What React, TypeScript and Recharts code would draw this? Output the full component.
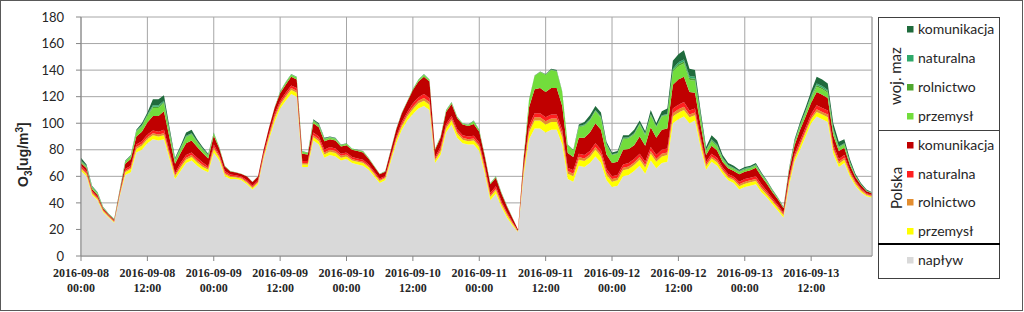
import { AreaChart, Area, XAxis, YAxis, CartesianGrid, ReferenceLine } from 'recharts';

// hourly values, 2016-09-08 00:00 .. 2016-09-13 23:00 (one line = one day)
const hours = Array.from({ length: 144 }, (_, i) => i);

const naplyw = [
  64, 60, 46, 42, 33, 29, 25, 45, 61, 63, 78, 80, 85, 88, 87, 88, 73, 58, 64, 70, 72, 68, 65, 63,
  78, 72, 60, 58, 58, 57, 54, 50, 54, 73, 88, 101, 111, 117, 122, 120, 67, 67, 87, 84, 74, 76, 75, 72,
  73, 70, 69, 68, 65, 60, 55, 57, 71, 85, 95, 102, 107, 111, 113, 110, 70, 76, 93, 99, 89, 85, 84, 84,
  79, 62, 42, 47, 37, 29, 23, 18, 60, 88, 96, 96, 93, 95, 95, 84, 58, 56, 68, 67, 70, 75, 70, 57,
  52, 53, 60, 61, 64, 68, 62, 72, 66, 70, 71, 100, 103, 105, 100, 102, 82, 65, 71, 68, 62, 57, 55, 50,
  52, 53, 54, 48, 44, 39, 34, 29, 53, 71, 80, 90, 100, 105, 103, 101, 77, 67, 70, 60, 53, 48, 45, 44,
];

const plPrzemysl = [
  1.5, 1.5, 1, 1, 0.8, 0.6, 0.6, 1, 2, 2.5, 2.5, 3, 3, 3, 3, 3, 2.5, 2, 2.5, 2.5, 2.5, 2.5, 2, 2,
  2.5, 2, 1.5, 1.5, 1.2, 1.2, 1.2, 1.2, 1.2, 1.5, 2, 2.5, 2.5, 2.5, 3, 3, 2, 2, 2.5, 2.5, 2.5, 2.5, 2.5, 2,
  2, 2, 2, 2, 1.8, 1.5, 1.5, 1.5, 2, 2.5, 2.5, 3, 3.5, 4, 4, 4, 2, 2.5, 3, 3, 3, 2.5, 2.5, 3,
  3, 2.5, 2.5, 2.5, 2, 1.8, 1.2, 0.5, 3, 5, 6, 6, 6, 6, 6, 5.5, 4, 4, 4.5, 4.5, 4.5, 5, 5, 4,
  4, 4, 4.5, 4.5, 4.5, 4.5, 4.5, 5, 5, 5, 5, 5, 5, 5, 4.5, 4, 3.5, 2.5, 2.5, 2.5, 2, 2, 2, 2.5,
  2.5, 2.5, 2.5, 2.5, 2, 2, 2, 1.5, 2.5, 2.5, 3, 3, 3, 3.5, 3.5, 3.5, 3, 2.5, 2.5, 2, 1.5, 1.2, 1, 0.8,
];

const plRolnictwo = [
  1, 1, 1, 0.5, 0.5, 0.4, 0.4, 0.5, 1, 1, 1.5, 1.5, 1.5, 1.5, 1.5, 1.5, 1.5, 1, 1.5, 1.5, 1.5, 1.5, 1.5, 1,
  1.5, 1, 1, 0.8, 0.7, 0.7, 0.8, 0.8, 0.8, 1, 1, 1.5, 1.5, 1.5, 1.5, 1.5, 1, 1, 1.5, 1.5, 1.5, 1.5, 1.5, 1.5,
  1.5, 1, 1, 1, 1, 1, 0.8, 0.8, 1, 1, 1.5, 1.5, 2, 2, 2, 2, 1, 1.5, 1.5, 1.5, 1.5, 1.5, 1.5, 1.5,
  1.5, 1.5, 1.2, 1.2, 1, 1, 0.7, 0.3, 1.5, 2, 2.5, 2.5, 2.5, 2.5, 2.5, 2.5, 2, 2, 2, 2, 2, 2, 2, 2,
  2, 2, 2, 2, 2, 2, 2, 2, 2, 2, 2, 2.5, 2.5, 2.5, 2, 2, 2, 1.5, 1.5, 1.5, 1.2, 1.2, 1.2, 1.5,
  1.5, 1.5, 1.5, 1.5, 1.5, 1, 1, 1, 1.5, 1.5, 1.5, 1.5, 1.5, 2, 2, 2, 1.5, 1.5, 1.5, 1, 1, 0.8, 0.5, 0.5,
];

const plNaturalna = [
  1.5, 1.5, 1, 1, 0.7, 0.5, 0.5, 1, 1.5, 1.5, 2, 2, 2, 2, 2, 2.5, 2, 1.5, 2, 2, 2, 2, 2, 1.5,
  2, 1.5, 1.5, 1, 0.9, 0.9, 1, 1, 1, 1.5, 1.5, 2, 2, 2, 2, 2, 1.5, 1.5, 2, 2, 2, 2, 2, 1.5,
  1.5, 1.5, 1.5, 1.5, 1.2, 1.2, 1, 1, 1.2, 1.5, 2, 2, 2.5, 2.5, 3, 3, 1.5, 2, 2, 2, 2, 2, 2, 2,
  2, 2, 1.8, 1.8, 1.5, 1.2, 0.9, 0.3, 2, 3, 3, 3, 3, 3, 3, 3, 2.5, 2.5, 2.5, 2.5, 2.5, 3, 3, 2.5,
  2, 2, 2.5, 2.5, 2.5, 2.5, 2.5, 3, 3, 3, 3, 3.5, 3.5, 3.5, 3, 3, 2.5, 2, 2, 2, 1.6, 1.6, 1.6, 2,
  2, 2, 2, 2, 1.5, 1.5, 1.5, 1, 2, 2, 2.5, 2.5, 2.5, 3, 3, 3, 2.5, 2, 2, 1.5, 1, 1, 0.8, 0.7,
];

const plKomunikacja = [
  2, 2, 1.5, 1.5, 1, 0.8, 0.8, 1.5, 4, 5, 6, 7, 9, 11, 12, 14, 10, 7, 7.5, 9, 9, 8, 7, 6,
  6.5, 4.5, 3.5, 2.4, 2, 2, 2.8, 2.8, 2.8, 2.8, 4.2, 4.7, 5.5, 6, 6.5, 6.5, 5.5, 5, 7, 7, 6.5, 6, 6, 5.5,
  5.5, 5.5, 5.5, 5.5, 4.3, 3.7, 3.2, 3.2, 4.3, 5.5, 6.5, 7.8, 10, 12, 13, 12.5, 5.5, 7, 9, 9, 8.5, 8, 8, 9,
  8, 7, 6.5, 6.5, 5.5, 4.3, 2.8, 0.8, 6, 14, 18, 19, 19, 20, 20, 18, 11, 10, 12, 13, 14, 15, 15, 11,
  10, 10, 11, 10.5, 10.5, 13, 12, 15, 13, 15, 15, 18, 19, 19, 14, 12, 9, 5, 6, 5.5, 4, 4.2, 4.2, 5.5,
  5.5, 5.5, 6.5, 6, 5.5, 4.5, 4, 3.5, 5, 6.5, 8, 8, 8.5, 10, 10, 9.5, 7, 6, 5.5, 4, 3, 2.4, 1.5, 1.2,
];

const wmPrzemysl = [
  1, 1, 1, 1, 0.5, 0.4, 0.4, 0.5, 1.5, 2, 3.5, 4, 5, 6, 6, 6, 4, 2.5, 3, 4.5, 4.5, 3.5, 2.5, 2,
  2, 0.8, 0.3, 0.2, 0.1, 0.1, 0.1, 0.1, 0.1, 0.1, 0.2, 0.2, 1, 1.5, 1.5, 1.5, 1.5, 1, 1.5, 1.5, 1.5, 1.2, 1.2, 1,
  1, 0.7, 0.7, 0.7, 0.5, 0.4, 0.3, 0.3, 0.3, 0.3, 0.3, 0.5, 0.7, 1, 1.5, 1, 0.7, 0.7, 1, 1, 0.7, 0.7, 0.7, 2,
  1.2, 0.7, 0.7, 0.7, 0.7, 0.5, 0.3, 0.1, 1.3, 5.5, 10, 12, 13, 13.5, 12.5, 10.5, 6, 5, 8, 9, 9, 9, 9, 7,
  6, 6, 8, 8, 8, 9, 8, 9, 8, 10, 10, 10, 10, 10, 9, 9, 6, 3, 3.5, 3, 2, 1.5, 1.5, 1.5,
  1.5, 1.5, 1.5, 1.3, 1.2, 1, 0.8, 0.5, 1, 2, 2.5, 3, 3.5, 4, 4, 4, 3, 2.5, 2.5, 1.5, 0.8, 0.5, 0.3, 0.3,
];

const wmRolnictwo = [
  0.5, 0.5, 0.5, 0.3, 0.2, 0.1, 0.1, 0.2, 0.3, 0.4, 0.5, 0.5, 0.5, 1, 1, 1, 0.8, 0.5, 0.5, 0.5, 0.5, 0.5, 0.5, 0.5,
  0.2, 0.1, 0.1, 0.1, 0.1, 0.1, 0.1, 0.1, 0.1, 0.1, 0.1, 0.1, 0.2, 0.2, 0.2, 0.2, 0.2, 0.2, 0.5, 0.5, 0.3, 0.3, 0.3, 0.2,
  0.2, 0.1, 0.1, 0.1, 0.1, 0.1, 0.1, 0.1, 0.1, 0.1, 0.1, 0.1, 0.1, 0.2, 0.2, 0.2, 0.1, 0.1, 0.2, 0.2, 0.1, 0.1, 0.1, 0.2,
  0.1, 0.1, 0.1, 0.1, 0.1, 0.1, 0.1, 0, 0.1, 0.2, 0.2, 0.2, 0.2, 0.3, 0.3, 0.2, 0.1, 0.1, 0.5, 0.5, 0.5, 0.5, 0.5, 0.5,
  0.3, 0.3, 0.5, 0.5, 0.5, 0.5, 0.5, 0.5, 0.5, 0.5, 0.5, 1, 1.5, 1.5, 1.5, 1.5, 1, 0.5, 0.8, 0.8, 0.6, 0.5, 0.5, 0.5,
  0.5, 0.5, 0.5, 0.5, 0.4, 0.3, 0.2, 0.2, 0.3, 0.5, 0.7, 0.8, 1, 1.2, 1.2, 1, 1, 0.5, 0.5, 0.5, 0.2, 0.1, 0.1, 0.1,
];

const wmNaturalna = [
  0.5, 0.5, 0.5, 0.3, 0.2, 0.1, 0.1, 0.1, 0.2, 0.3, 0.5, 0.5, 0.5, 1, 1, 1, 0.7, 0.5, 0.5, 0.5, 0.5, 0.5, 0.5, 0.3,
  0.2, 0.1, 0, 0, 0, 0, 0, 0, 0, 0, 0, 0, 0.1, 0.1, 0.1, 0.1, 0.1, 0.1, 0.3, 0.3, 0.2, 0.2, 0.2, 0.1,
  0.1, 0.1, 0.1, 0.1, 0, 0, 0, 0, 0, 0, 0, 0, 0.1, 0.1, 0.1, 0.1, 0.1, 0.1, 0.1, 0.1, 0.1, 0.1, 0.1, 0.1,
  0.1, 0.1, 0.1, 0.1, 0.1, 0, 0, 0, 0, 0.1, 0.1, 0.1, 0.1, 0.2, 0.2, 0.1, 0.1, 0.1, 0.5, 0.5, 0.5, 0.5, 0.5, 0.5,
  0.3, 0.3, 0.5, 0.5, 0.5, 0.5, 0.5, 0.5, 0.5, 0.5, 0.5, 1, 1.5, 1.5, 1.5, 1.5, 1, 0.5, 0.7, 0.7, 0.6, 0.5, 0.5, 0.5,
  0.5, 0.5, 0.5, 0.4, 0.3, 0.2, 0.2, 0.1, 0.2, 0.5, 0.8, 0.7, 1, 1.3, 1.3, 1, 1, 0.5, 0.5, 0.5, 0.2, 0.1, 0.1, 0.1,
];

const wmKomunikacja = [
  2, 1, 0.5, 0.4, 0.1, 0.1, 0.1, 0.2, 0.5, 0.3, 0.5, 1.5, 1.5, 4.5, 4.5, 4, 2.5, 1, 1.5, 2.5, 2.5, 1.5, 1, 0.7,
  0.1, 0, 0.1, 0, 0, 0, 0, 0, 0, 0, 0, 0, 0.2, 0.2, 0.2, 0.2, 0.2, 0.2, 0.7, 0.7, 0.5, 0.3, 0.3, 0.2,
  0.2, 0.1, 0.1, 0.1, 0.1, 0.1, 0.1, 0.1, 0.1, 0.1, 0.1, 0.1, 0.1, 0.2, 0.2, 0.2, 0.1, 0.1, 0.2, 0.2, 0.1, 0.1, 0.1, 0.2,
  0.1, 0.1, 0.1, 0.1, 0.1, 0.1, 0, 0, 0.1, 0.2, 0.2, 0.2, 0.2, 0.5, 0.5, 0.2, 0.3, 0.3, 1, 2, 3, 3, 3, 1.5,
  1.4, 1.4, 2, 1.5, 2.5, 2, 2, 3, 2, 3, 4, 6, 6, 7, 5.5, 5, 3, 2, 3, 3, 2, 1.5, 1.5, 1,
  1, 1, 1, 0.8, 0.6, 0.5, 0.3, 0.2, 0.5, 1.5, 2, 2.5, 3, 5, 5, 5, 4, 3.5, 3, 2, 1.3, 0.9, 0.7, 0.3,
];

const xTicks = [0, 12, 24, 36, 48, 60, 72, 84, 96, 108, 120, 132];
const tickDates = [
  '2016-09-08', '2016-09-08', '2016-09-09', '2016-09-09', '2016-09-10', '2016-09-10',
  '2016-09-11', '2016-09-11', '2016-09-12', '2016-09-12', '2016-09-13', '2016-09-13',
];
const tickTimes = ['00:00', '12:00', '00:00', '12:00', '00:00', '12:00', '00:00', '12:00', '00:00', '12:00', '00:00', '12:00'];
const yTicks = [0, 20, 40, 60, 80, 100, 120, 140, 160, 180];

const series = [
  { key: 'naplyw', values: naplyw, color: '#d9d9d9' },
  { key: 'plPrzemysl', values: plPrzemysl, color: '#ffff00' },
  { key: 'plRolnictwo', values: plRolnictwo, color: '#e38d2f' },
  { key: 'plNaturalna', values: plNaturalna, color: '#ff1f1f' },
  { key: 'plKomunikacja', values: plKomunikacja, color: '#c00000' },
  { key: 'wmPrzemysl', values: wmPrzemysl, color: '#72dd3c' },
  { key: 'wmRolnictwo', values: wmRolnictwo, color: '#4ea72e' },
  { key: 'wmNaturalna', values: wmNaturalna, color: '#2ea96a' },
  { key: 'wmKomunikacja', values: wmKomunikacja, color: '#1f6b3c' },
];

const data = hours.map((h, i) => {
  const row: Record<string, number> = { h };
  series.forEach((s) => {
    row[s.key] = s.values[i];
  });
  return row;
});

const colorOf = (key: string) => series.find((s) => s.key === key)!.color;

// legend rows: [label, series key, centre y]
const legendRows: [string, string, number][] = [
  ['komunikacja', 'wmKomunikacja', 29],
  ['naturalna', 'wmNaturalna', 58],
  ['rolnictwo', 'wmRolnictwo', 87],
  ['przemysł', 'wmPrzemysl', 116],
  ['komunikacja', 'plKomunikacja', 145],
  ['naturalna', 'plNaturalna', 174],
  ['rolnictwo', 'plRolnictwo', 202],
  ['przemysł', 'plPrzemysl', 231],
  ['napływ', 'naplyw', 260],
];

const XTick = (props: any) => {
  const { x, payload } = props;
  const i = xTicks.indexOf(payload.value);
  const style = { fontFamily: 'Liberation Serif', fontWeight: 700, fontSize: 12, fill: '#262626' };
  return (
    <g>
      <text x={x} y={276.5} textAnchor="middle" style={style}>{tickDates[i]}</text>
      <text x={x} y={291.5} textAnchor="middle" style={style}>{tickTimes[i]}</text>
    </g>
  );
};

const Legend = () => (
  <svg width={1024} height={312} style={{ position: 'absolute', left: 0, top: 0, pointerEvents: 'none' }}>
    <rect x={0.5} y={0.5} width={1022} height={310} fill="none" stroke="#595959" />
    <rect x={878.5} y={17.5} width={121} height={261} fill="#fff" stroke="#404040" />
    <line x1={878} x2={1000} y1={130.5} y2={130.5} stroke="#404040" />
    <line x1={878} x2={1000} y1={244} y2={244} stroke="#000" strokeWidth={2} />
    <text transform="translate(901 76) rotate(-90)" textAnchor="middle" style={{ fontFamily: 'Lato', fontSize: 15, fill: '#262626' }}>
      woj. maz
    </text>
    <text transform="translate(902 188) rotate(-90)" textAnchor="middle" style={{ fontFamily: 'Lato', fontSize: 15, fill: '#262626' }}>
      Polska
    </text>
    {legendRows.map(([label, key, cy]) => (
      <g key={key}>
        <rect x={907} y={cy - 3} width={6.5} height={6.5} fill={colorOf(key)} />
        <text x={918} y={cy + 5} style={{ fontFamily: 'Lato', fontSize: 14, fill: '#262626' }}>
          {label}
        </text>
      </g>
    ))}
    <text transform="translate(28 187) rotate(-90)" style={{ fontFamily: 'Liberation Sans', fontWeight: 700, fontSize: 14, fill: '#262626' }}>
      O<tspan dy={4} fontSize={10}>3</tspan>
      <tspan dy={-4}>[ug/m</tspan>
      <tspan dy={-5} fontSize={10}>3</tspan>
      <tspan dy={5}>]</tspan>
    </text>
  </svg>
);

const App = () => {
  return (
    <div style={{ position: 'absolute', left: 0, top: 0, width: 1024, height: 312, background: '#fff' }}>
      <AreaChart width={1024} height={312} data={data} margin={{ top: 17, right: 152, bottom: 0, left: 0 }}>
        <CartesianGrid stroke="#a6a6a6" />
        <XAxis
          dataKey="h"
          type="number"
          domain={[0, 143]}
          ticks={xTicks}
          interval={0}
          height={56}
          stroke="#868686"
          tickSize={5}
          tick={<XTick />}
        />
        <YAxis
          domain={[0, 180]}
          ticks={yTicks}
          width={81}
          stroke="#868686"
          tickSize={5}
          tickMargin={12}
          tick={{ fontFamily: 'Lato', fontSize: 13, fill: '#262626' }}
        />
        <ReferenceLine x={143} stroke="#a6a6a6" />
        {series.map((s) => (
          <Area
            key={s.key}
            type="linear"
            dataKey={s.key}
            stackId="1"
            stroke="none"
            fill={s.color}
            fillOpacity={1}
            dot={false}
            activeDot={false}
            isAnimationActive={false}
          />
        ))}
      </AreaChart>
      <Legend />
    </div>
  );
};

export default App;
